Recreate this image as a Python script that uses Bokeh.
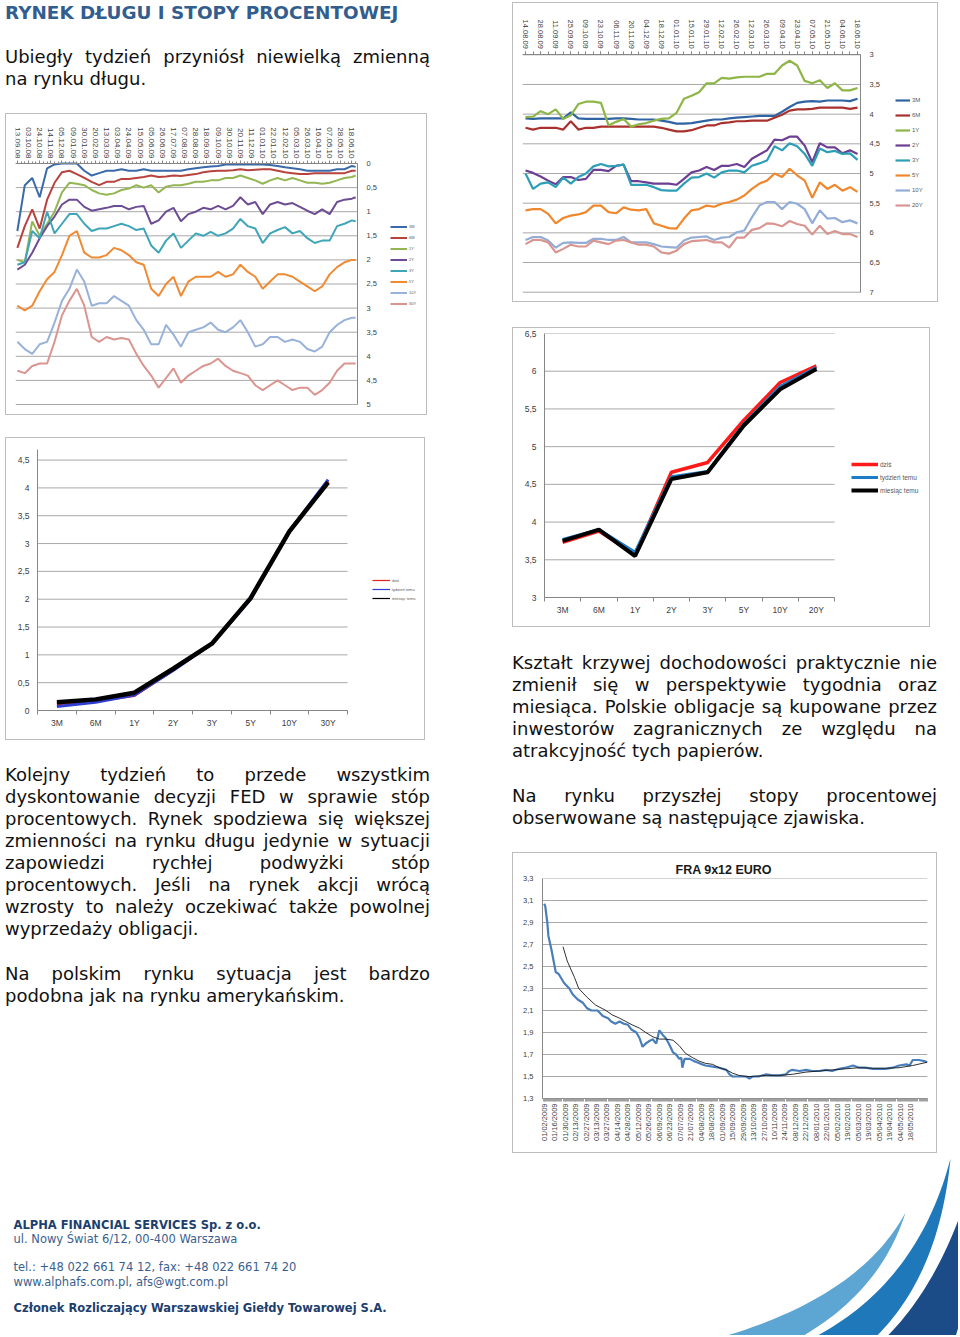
import math
import numpy as np
from bokeh.plotting import figure
from bokeh.models import (Range1d, FixedTicker, Legend, LegendItem, Div, Spacer,
                          CustomJSTickFormatter)
from bokeh.layouts import column, row
from bokeh.embed import file_html
from bokeh.resources import INLINE
from bokeh.core.properties import value

# ------------------------------------------------------------------ data
# US Treasury yields (weekly), chart 1
us_labels = ["13.09.08", "03.10.08", "24.10.08", "14.11.08", "05.12.08", "09.01.09",
             "30.01.09", "20.02.09", "13.03.09", "03.04.09", "24.04.09", "15.05.09",
             "05.06.09", "26.06.09", "17.07.09", "07.08.09", "28.08.09", "18.09.09",
             "09.10.09", "30.10.09", "20.11.09", "11.12.09", "01.01.10", "22.01.10",
             "12.02.10", "05.03.10", "26.03.10", "16.04.10", "07.05.10", "28.05.10",
             "18.06.10"]
us_label_pos = list(range(0, 91, 3))
us_x = list(range(0, 92, 2)) + [91]
us_names = ["3M", "6M", "1Y", "2Y", "3Y", "5Y", "10Y", "30Y"]
us_3m = [1.4, 0.45, 0.3, 0.7, 0.1, 0.02, 0.0, 0.0, 0.0, 0.15, 0.25, 0.2, 0.15, 0.15, 0.12,
         0.15, 0.15, 0.12, 0.15, 0.15, 0.15, 0.15, 0.15, 0.12, 0.1, 0.08, 0.06, 0.05, 0.02,
         0.02, 0.02, 0.02, 0.02, 0.02, 0.03, 0.05, 0.08, 0.1, 0.12, 0.15, 0.15, 0.15, 0.15,
         0.12, 0.12, 0.05, 0.07]
us_6m = [1.75, 1.3, 0.95, 1.35, 0.75, 0.4, 0.18, 0.15, 0.22, 0.3, 0.38, 0.45, 0.38, 0.38,
         0.32, 0.32, 0.3, 0.28, 0.25, 0.28, 0.27, 0.25, 0.26, 0.24, 0.22, 0.18, 0.16, 0.15,
         0.15, 0.14, 0.12, 0.14, 0.13, 0.12, 0.12, 0.15, 0.18, 0.2, 0.22, 0.22, 0.2, 0.2,
         0.2, 0.2, 0.2, 0.15, 0.15]
us_1y = [2.0, 2.05, 1.2, 1.5, 1.25, 1.0, 0.6, 0.4, 0.42, 0.45, 0.55, 0.62, 0.65, 0.62, 0.55,
         0.52, 0.45, 0.5, 0.45, 0.6, 0.48, 0.45, 0.45, 0.42, 0.38, 0.38, 0.35, 0.35, 0.3,
         0.3, 0.25, 0.3, 0.35, 0.42, 0.35, 0.3, 0.35, 0.3, 0.35, 0.4, 0.4, 0.42, 0.4, 0.35,
         0.3, 0.28, 0.25]
us_2y = [2.2, 2.1, 1.85, 1.55, 1.3, 1.1, 0.85, 0.75, 0.75, 0.9, 0.98, 0.95, 0.92, 0.88,
         0.88, 0.95, 0.9, 0.88, 1.25, 1.18, 1.0, 0.92, 1.2, 1.05, 1.0, 0.92, 0.95, 0.88,
         0.95, 0.88, 0.7, 0.85, 0.8, 1.05, 0.85, 0.8, 0.85, 0.82, 0.9, 0.98, 1.05, 0.95,
         1.05, 0.8, 0.75, 0.73, 0.7]
us_3y = [2.1, 2.05, 1.4, 1.55, 1.0, 1.45, 1.25, 1.05, 1.05, 1.25, 1.4, 1.35, 1.35, 1.3,
         1.25, 1.3, 1.38, 1.35, 1.7, 1.85, 1.6, 1.45, 1.75, 1.6, 1.45, 1.5, 1.42, 1.5, 1.45,
         1.35, 1.15, 1.3, 1.35, 1.65, 1.45, 1.38, 1.32, 1.45, 1.4, 1.55, 1.65, 1.6, 1.6,
         1.3, 1.25, 1.18, 1.2]
us_5y = [2.95, 3.05, 2.95, 2.65, 2.4, 2.25, 1.9, 1.5, 1.4, 1.85, 1.95, 1.95, 1.9, 1.75, 1.8,
         1.9, 2.05, 2.1, 2.6, 2.75, 2.5, 2.35, 2.75, 2.45, 2.35, 2.35, 2.35, 2.25, 2.35, 2.3,
         2.1, 2.25, 2.35, 2.6, 2.45, 2.3, 2.3, 2.35, 2.45, 2.55, 2.65, 2.55, 2.3, 2.15,
         2.05, 2.0, 2.0]
us_10y = [3.7, 3.85, 3.95, 3.75, 3.7, 3.3, 2.85, 2.6, 2.2, 2.45, 2.95, 2.9, 2.9, 2.75, 2.85,
          2.95, 3.25, 3.45, 3.75, 3.75, 3.35, 3.55, 3.8, 3.5, 3.45, 3.4, 3.3, 3.45, 3.5, 3.4,
          3.25, 3.5, 3.8, 3.75, 3.6, 3.6, 3.7, 3.65, 3.7, 3.85, 3.9, 3.8, 3.5, 3.35, 3.25,
          3.2, 3.2]
us_30y = [4.3, 4.35, 4.2, 4.15, 4.15, 3.7, 3.15, 2.85, 2.6, 2.95, 3.6, 3.7, 3.6, 3.65, 3.62,
          3.65, 3.95, 4.2, 4.4, 4.65, 4.45, 4.25, 4.55, 4.4, 4.3, 4.2, 4.15, 4.05, 4.2, 4.3,
          4.35, 4.4, 4.6, 4.7, 4.6, 4.5, 4.6, 4.7, 4.65, 4.65, 4.8, 4.7, 4.55, 4.3, 4.15,
          4.15, 4.15]

# Polish bond yields (weekly), chart 3
pl_labels = ["14.08.09", "28.08.09", "11.09.09", "25.09.09", "09.10.09", "23.10.09",
             "06.11.09", "20.11.09", "04.12.09", "18.12.09", "01.01.10", "15.01.10",
             "29.01.10", "12.02.10", "26.02.10", "12.03.10", "26.03.10", "09.04.10",
             "23.04.10", "07.05.10", "21.05.10", "04.06.10", "18.06.10"]
pl_label_pos = list(range(0, 45, 2))
pl_x = list(range(45))
pl_names = ["3M", "6M", "1Y", "2Y", "3Y", "5Y", "10Y", "20Y"]
pl_3m = [4.07, 4.08, 4.07, 4.07, 4.07, 4.07, 3.97, 4.07, 4.08, 4.08,
         4.08, 4.08, 4.07, 4.07, 4.08, 4.09, 4.09, 4.09, 4.11, 4.13,
         4.16, 4.16, 4.15, 4.13, 4.11, 4.09, 4.09, 4.07, 4.06, 4.05,
         4.04, 4.03, 4.03, 4.03, 3.96, 3.88, 3.81, 3.79, 3.78, 3.79,
         3.77, 3.77, 3.77, 3.78, 3.74]
pl_6m = [4.23, 4.26, 4.23, 4.23, 4.23, 4.26, 4.12, 4.26, 4.23, 4.23,
         4.21, 4.21, 4.21, 4.21, 4.21, 4.21, 4.21, 4.21, 4.23, 4.26,
         4.29, 4.29, 4.27, 4.23, 4.19, 4.19, 4.15, 4.14, 4.12, 4.12,
         4.11, 4.11, 4.11, 4.06, 4.01, 3.94, 3.92, 3.92, 3.91, 3.89,
         3.89, 3.89, 3.89, 3.91, 3.89]
pl_1y = [4.05, 4.04, 3.95, 4.0, 3.92, 4.08, 4.02, 3.83, 3.79, 3.79,
         3.81, 4.19, 4.13, 4.08, 4.21, 4.17, 4.15, 4.11, 4.08, 4.07,
         3.98, 3.74, 3.69, 3.63, 3.48, 3.48, 3.39, 3.4, 3.38, 3.37,
         3.37, 3.37, 3.32, 3.32, 3.18, 3.1, 3.18, 3.44, 3.48, 3.43,
         3.56, 3.48, 3.6, 3.6, 3.56]
pl_2y = [4.95, 4.99, 5.05, 5.12, 5.18, 5.06, 5.06, 5.11, 5.09, 4.94,
         4.94, 4.96, 4.87, 4.85, 5.13, 5.13, 5.15, 5.17, 5.17, 5.17,
         5.19, 5.09, 4.98, 4.95, 4.89, 4.94, 4.87, 4.87, 4.84, 4.89,
         4.75, 4.68, 4.61, 4.43, 4.44, 4.38, 4.38, 4.53, 4.81, 4.49,
         4.56, 4.56, 4.66, 4.61, 4.67]
pl_3y = [5.0, 5.26, 5.17, 5.15, 5.23, 5.07, 5.17, 5.06, 5.0, 4.88,
         4.84, 4.88, 4.87, 4.85, 5.19, 5.19, 5.19, 5.23, 5.28, 5.29,
         5.29, 5.17, 5.07, 5.06, 5.0, 5.07, 4.98, 4.95, 4.95, 4.98,
         4.87, 4.83, 4.78, 4.54, 4.61, 4.49, 4.54, 4.67, 4.87, 4.58,
         4.64, 4.62, 4.67, 4.66, 4.77]
pl_5y = [5.62, 5.6, 5.6, 5.68, 5.84, 5.75, 5.71, 5.69, 5.65, 5.54,
         5.54, 5.65, 5.67, 5.57, 5.61, 5.62, 5.6, 5.84, 5.88, 5.92,
         5.93, 5.76, 5.62, 5.6, 5.54, 5.56, 5.51, 5.48, 5.44, 5.37,
         5.26, 5.17, 5.12, 5.0, 5.06, 4.92, 5.03, 5.12, 5.41, 5.15,
         5.26, 5.19, 5.29, 5.23, 5.31]
pl_10y = [6.12, 6.07, 6.07, 6.13, 6.25, 6.17, 6.16, 6.17, 6.17, 6.1,
          6.1, 6.12, 6.12, 6.07, 6.16, 6.16, 6.16, 6.19, 6.23, 6.24,
          6.25, 6.13, 6.08, 6.07, 6.06, 6.12, 6.08, 6.07, 5.99, 5.96,
          5.74, 5.54, 5.48, 5.48, 5.6, 5.48, 5.51, 5.6, 5.84, 5.62,
          5.76, 5.75, 5.82, 5.79, 5.84]
pl_20y = [6.19, 6.12, 6.12, 6.16, 6.33, 6.27, 6.2, 6.23, 6.23, 6.13,
          6.16, 6.19, 6.13, 6.12, 6.16, 6.2, 6.2, 6.23, 6.33, 6.35,
          6.3, 6.19, 6.14, 6.13, 6.12, 6.16, 6.16, 6.25, 6.08, 6.08,
          5.95, 5.92, 5.84, 5.85, 5.89, 5.8, 5.85, 5.88, 6.03, 5.88,
          6.02, 5.97, 6.02, 6.02, 6.07]

# yield curves, charts 2 and 4
curve_names = ["dziś", "tydzień temu", "miesiąc temu"]
us_curve_cats = ["3M", "6M", "1Y", "2Y", "3Y", "5Y", "10Y", "30Y"]
us_today = [0.12, 0.17, 0.27, 0.73, 1.2, 2.02, 3.22, 4.12]
us_week = [0.07, 0.15, 0.28, 0.72, 1.2, 2.0, 3.22, 4.15]
us_month = [0.15, 0.2, 0.32, 0.75, 1.2, 2.02, 3.22, 4.1]
pl_curve_cats = ["3M", "6M", "1Y", "2Y", "3Y", "5Y", "10Y", "20Y"]
pl_today = [3.73, 3.88, 3.57, 4.66, 4.79, 5.35, 5.85, 6.07]
pl_week = [3.77, 3.9, 3.6, 4.6, 4.67, 5.3, 5.8, 6.05]
pl_month = [3.75, 3.9, 3.55, 4.57, 4.66, 5.28, 5.76, 6.03]

# FRA 9x12 EURO (trading day index), chart 5
fra_labels = ["01/02/2009", "01/16/2009", "01/30/2009", "02/13/2009", "02/27/2009",
              "03/13/2009", "03/27/2009", "04/14/2009", "04/28/2009", "05/12/2009",
              "05/26/2009", "06/09/2009", "06/23/2009", "07/07/2009", "21/07/2009",
              "04/08/2009", "18/08/2009", "01/09/2009", "15/09/2009", "29/09/2009",
              "13/10/2009", "27/10/2009", "10/11/2009", "24/11/2009", "08/12/2009",
              "22/12/2009", "08/01/2010", "22/01/2010", "05/02/2010", "19/02/2010",
              "05/03/2010", "19/03/2010", "05/04/2010", "19/04/2010", "04/05/2010",
              "18/05/2010"]
fra_label_pos = list(range(0, 351, 10))
fra_day = [0, 1, 3, 4, 7, 11, 14, 19, 24, 27, 32, 37, 41, 45, 51, 56, 61, 64, 68, 72,
           76, 80, 83, 88, 91, 94, 97, 100, 104, 105, 107, 110, 113, 116, 119, 123, 126,
           129, 131, 132, 134, 139, 143, 146, 151, 154, 161, 167, 174, 177, 180, 186, 193,
           196, 199, 205, 212, 218, 225, 231, 234, 237, 244, 250, 256, 263, 269, 275, 282,
           288, 295, 301, 307, 314, 320, 326, 333, 339, 346, 349, 352, 358, 363, 366]
fra_val = [3.07, 3.05, 2.9, 2.78, 2.65, 2.45, 2.43, 2.35, 2.3, 2.25, 2.2, 2.17, 2.12, 2.1,
           2.1, 2.05, 2.03, 2.0, 1.98, 2.0, 1.98, 1.97, 1.93, 1.9, 1.85, 1.77, 1.8, 1.82,
           1.84, 1.82, 1.8, 1.92, 1.88, 1.85, 1.8, 1.72, 1.7, 1.66, 1.67, 1.58, 1.66, 1.66,
           1.64, 1.63, 1.61, 1.6, 1.59, 1.58, 1.56, 1.52, 1.5, 1.5, 1.5, 1.48, 1.5, 1.5,
           1.52, 1.51, 1.51, 1.52, 1.55, 1.56, 1.55, 1.56, 1.55, 1.55, 1.56, 1.55, 1.57,
           1.58, 1.6, 1.58, 1.58, 1.57, 1.57, 1.57, 1.58, 1.6, 1.61, 1.6, 1.65, 1.65, 1.64,
           1.63]
fra_ma_day = [18, 22, 29, 33, 41, 49, 59, 65, 72, 78, 84, 91, 97, 104, 110, 116, 123, 129,
              135, 142, 148, 154, 161, 167, 174, 180, 186, 193, 199, 212, 225, 237, 250,
              263, 275, 288, 301, 314, 326, 339, 352, 366]
fra_ma_val = [2.68, 2.55, 2.4, 2.3, 2.22, 2.15, 2.1, 2.06, 2.03, 2.0, 1.97, 1.94, 1.9,
              1.86, 1.84, 1.84, 1.83, 1.78, 1.71, 1.67, 1.64, 1.62, 1.61, 1.58, 1.56, 1.53,
              1.51, 1.5, 1.5, 1.51, 1.51, 1.52, 1.54, 1.55, 1.56, 1.57, 1.58, 1.575, 1.575,
              1.58, 1.6, 1.63]

# texts
title_text = "RYNEK DŁUGU I STOPY PROCENTOWEJ"
p1_lines = ["Ubiegły tydzień przyniósł niewielką zmienną", "na rynku długu."]
p2_lines = ["Kolejny tydzień to przede wszystkim",
            "dyskontowanie decyzji FED w sprawie stóp",
            "procentowych. Rynek spodziewa się większej",
            "zmienności na rynku długu jedynie w sytuacji",
            "zapowiedzi rychłej podwyżki stóp",
            "procentowych. Jeśli na rynek akcji wrócą",
            "wzrosty to należy oczekiwać także powolnej",
            "wyprzedaży obligacji."]
p5_lines = ["Na polskim rynku sytuacja jest bardzo",
            "podobna jak na rynku amerykańskim."]
p3_lines = ["Kształt krzywej dochodowości praktycznie nie",
            "zmienił się w perspektywie tygodnia oraz",
            "miesiąca. Polskie obligacje są kupowane przez",
            "inwestorów zagranicznych ze względu na",
            "atrakcyjność tych papierów."]
p4_lines = ["Na rynku przyszłej stopy procentowej",
            "obserwowane są następujące zjawiska."]
footer_bold = ["ALPHA FINANCIAL SERVICES Sp. z o.o.",
               "Członek Rozliczający Warszawskiej Giełdy Towarowej S.A."]
footer_regular = ["ul. Nowy Świat 6/12, 00-400 Warszawa",
                  "tel.: +48 022 661 74 12, fax: +48 022 661 74 20",
                  "www.alphafs.com.pl, afs@wgt.com.pl"]

# ------------------------------------------------------------------ styles
FONT = "DejaVu Sans"
AX_FONT = "Liberation Sans"
GRID = "#A8A8A8"
AXL = "#868686"
LBL = "#404040"
us_colors = ["#3A6AAA", "#B8423E", "#93B652", "#6E4C94", "#3FA5B8", "#F08A33",
             "#98B2D9", "#DA9590"]
pl_colors = ["#2F63A1", "#A9312D", "#8DB646", "#6C3F92", "#2C9FB7", "#F0872C",
             "#93ADD6", "#D99590"]

COMMA_JS = "var s = (Math.round(tick*10)/10).toString(); return s.replace('.', ',');"


def base_fig(w, h, l, r, t, b, xr, yr, **kw):
    p = figure(width=w, height=h, x_range=xr, y_range=yr, output_backend="svg",
               toolbar_location=None, min_border_left=l, min_border_right=r,
               min_border_top=t, min_border_bottom=b, **kw)
    p.outline_line_color = None
    p.background_fill_color = "white"
    p.border_fill_color = "white"
    p.xgrid.visible = False
    p.ygrid.visible = False
    return p


def gridlines(p, ticks, x0, x1):
    p.segment(x0=[x0] * len(ticks), x1=[x1] * len(ticks), y0=ticks, y1=ticks,
              line_color=GRID, line_width=1)


def boxed(p):
    return column(p, spacing=0, styles={"border": "1px solid #BDBDBD"})


def style_axis(ax, size):
    ax.major_label_text_font = AX_FONT
    ax.major_label_text_font_size = size
    ax.major_label_text_color = LBL
    ax.axis_line_color = AXL
    ax.major_tick_line_color = AXL
    ax.minor_tick_line_color = AXL
    ax.major_tick_in = 0
    ax.minor_tick_in = 0


def comma_y(ax, ticks, size, standoff=7):
    ax.ticker = FixedTicker(ticks=ticks)
    ax.formatter = CustomJSTickFormatter(code=COMMA_JS)
    style_axis(ax, size)
    ax.major_tick_out = 0
    ax.major_label_standoff = standoff


def add_legend(p, names, rends, vx, vy, fs, gw, gh, sp):
    leg = Legend(items=[LegendItem(label=n, renderers=[r]) for n, r in zip(names, rends)],
                 location=(vx, vy), orientation="vertical",
                 label_text_font=AX_FONT, label_text_font_size=fs,
                 label_text_color="#595959", glyph_width=gw, glyph_height=gh,
                 label_height=gh, spacing=sp, padding=0, margin=0, label_standoff=2,
                 border_line_color=None, background_fill_alpha=0)
    p.add_layout(leg)


# ------------------------------------------------------------------ chart 1 (US yields)
us_yt = [0, 0.5, 1, 1.5, 2, 2.5, 3, 3.5, 4, 4.5, 5]
p1 = base_fig(420, 300, 9, 0, 0, 0, Range1d(-0.5, 110.06), Range1d(5.2075, -1.0166),
              x_axis_location="above", y_axis_location="right")
gridlines(p1, us_yt, -0.5, 91.5)
r1 = [p1.line(us_x, s, line_color=c, line_width=2.0)
      for s, c in zip([us_3m, us_6m, us_1y, us_2y, us_3y, us_5y, us_10y, us_30y], us_colors)]
xa = p1.xaxis[0]
xa.ticker = FixedTicker(ticks=us_label_pos, minor_ticks=list(range(92)))
xa.major_label_overrides = {int(k): v for k, v in zip(us_label_pos, us_labels)}
xa.major_label_orientation = -math.pi / 2
xa.bounds = (-0.5, 91.5)
xa.fixed_location = 0
style_axis(xa, "8px")
xa.major_tick_out = 3
xa.minor_tick_out = 2
xa.major_label_standoff = 2
ya = p1.yaxis[0]
comma_y(ya, us_yt, "7.5px", 9)
ya.fixed_location = 91.5
ya.bounds = (0, 5)
add_legend(p1, us_names, r1, 375, 107.5, "4px", 17, 7, 4)

# ------------------------------------------------------------------ chart 2 (US curve)
us_ct = [0, 0.5, 1, 1.5, 2, 2.5, 3, 3.5, 4, 4.5]
p2 = base_fig(418, 301, 31, 0, 11, 29, Range1d(-0.5, 9.487), Range1d(0, 4.69))
gridlines(p2, us_ct, -0.5, 7.5)
cx = list(range(len(us_curve_cats)))
c2 = ["#E3201B", "#2F3FD0", "#000000"]
p2.line(cx, us_today, line_color=c2[0], line_width=3)
p2.line(cx, us_week, line_color=c2[1], line_width=3)
p2.line(cx, us_month, line_color=c2[2], line_width=4.5)
# thin, hidden twins of the three series used only for the legend swatches
r2 = [p2.line(cx, s, line_color=c, line_width=1.2, visible=False)
      for s, c in zip([us_today, us_week, us_month], c2)]
xa = p2.xaxis[0]
xa.ticker = FixedTicker(ticks=cx, minor_ticks=[k - 0.5 for k in range(9)])
xa.major_label_overrides = {i: c for i, c in enumerate(us_curve_cats)}
xa.bounds = (-0.5, 7.5)
style_axis(xa, "8.5px")
xa.major_tick_out = 0
xa.minor_tick_out = 4
xa.major_label_standoff = 3
comma_y(p2.yaxis[0], us_ct, "8.5px", 8)
add_legend(p2, curve_names, r2, 335, 109, "4px", 18, 6, 3)

# ------------------------------------------------------------------ chart 3 (PL yields)
pl_yt = [3, 3.5, 4, 4.5, 5, 5.5, 6, 6.5, 7]
p3 = base_fig(424, 298, 9, 0, 0, 0, Range1d(-0.4, 54.6), Range1d(7.1567, 2.1356),
              x_axis_location="above", y_axis_location="right")
gridlines(p3, pl_yt, -0.4, 44.4)
r3 = [p3.line(pl_x, s, line_color=c, line_width=2.2)
      for s, c in zip([pl_3m, pl_6m, pl_1y, pl_2y, pl_3y, pl_5y, pl_10y, pl_20y], pl_colors)]
xa = p3.xaxis[0]
xa.ticker = FixedTicker(ticks=pl_label_pos, minor_ticks=pl_x)
xa.major_label_overrides = {int(k): v for k, v in zip(pl_label_pos, pl_labels)}
xa.major_label_orientation = -math.pi / 2
xa.bounds = (-0.4, 44.4)
xa.fixed_location = 3
style_axis(xa, "7.5px")
xa.major_tick_out = 3
xa.minor_tick_out = 3
xa.major_label_standoff = 3
ya = p3.yaxis[0]
comma_y(ya, pl_yt, "7.5px", 9)
ya.fixed_location = 44.4
ya.bounds = (3, 7)
add_legend(p3, pl_names, r3, 373, 92, "6px", 15, 8, 7)

# ------------------------------------------------------------------ chart 4 (PL curve)
pl_ct = [3, 3.5, 4, 4.5, 5, 5.5, 6, 6.5]
p4 = base_fig(416, 298, 31, 0, 5, 29, Range1d(-0.5, 10.12), Range1d(3, 6.5))
gridlines(p4, pl_ct, -0.5, 7.5)
cx = list(range(len(pl_curve_cats)))
r4 = [p4.line(cx, pl_today, line_color="#FF1A1A", line_width=3.5),
      p4.line(cx, pl_week, line_color="#1F7BC4", line_width=3),
      p4.line(cx, pl_month, line_color="#000000", line_width=4)]
xa = p4.xaxis[0]
xa.ticker = FixedTicker(ticks=cx, minor_ticks=[k - 0.5 for k in range(9)])
xa.major_label_overrides = {i: c for i, c in enumerate(pl_curve_cats)}
xa.bounds = (-0.5, 7.5)
style_axis(xa, "8.5px")
xa.major_tick_out = 0
xa.minor_tick_out = 4
xa.major_label_standoff = 3
comma_y(p4.yaxis[0], pl_ct, "8.5px", 8)
add_legend(p4, curve_names, r4, 307, 103, "6.5px", 27, 8, 5)

# ------------------------------------------------------------------ chart 5 (FRA)
fra_yt = [1.3, 1.5, 1.7, 1.9, 2.1, 2.3, 2.5, 2.7, 2.9, 3.1, 3.3]
p5 = base_fig(423, 299, 29, 9, 25, 54, Range1d(-1.6, 366.1), Range1d(1.3, 3.3))
gridlines(p5, fra_yt, -1.6, 366.1)
p5.line(fra_day, fra_val, line_color="#4A7EBB", line_width=2.2)
p5.line(fra_ma_day, fra_ma_val, line_color="#1A1A1A", line_width=0.9)
p5.title.text = "FRA 9x12 EURO"
p5.title.text_font = AX_FONT
p5.title.text_font_size = "12.5px"
p5.title.text_font_style = "bold"
p5.title.text_color = "#1A1A1A"
p5.title.align = "left"
p5.title.offset = 133
p5.title.standoff = 4
xa = p5.xaxis[0]
xa.ticker = FixedTicker(ticks=fra_label_pos, minor_ticks=list(range(-1, 367)))
xa.major_label_overrides = {int(k): v for k, v in zip(fra_label_pos, fra_labels)}
xa.major_label_orientation = math.pi / 2
style_axis(xa, "7.5px")
xa.major_tick_out = 3
xa.minor_tick_out = 3
xa.minor_tick_line_color = "#A0A0A0"
xa.major_label_standoff = 2
ya = p5.yaxis[0]
ya.ticker = FixedTicker(ticks=fra_yt)
ya.formatter = CustomJSTickFormatter(code="return tick.toFixed(1).replace('.', ',');")
style_axis(ya, "7.5px")
ya.major_tick_out = 0
ya.major_label_standoff = 9


# ------------------------------------------------------------------ text blocks
def text_block(width, height, lines):
    parts = []
    for txt, top, just, extra in lines:
        if just:
            inner = "".join(f"<span>{w}</span>" for w in txt.split(" "))
            parts.append(
                f'<div style="position:absolute;left:0px;top:{top}px;width:{width}px;'
                f'height:22px;line-height:22px;display:flex;justify-content:space-between;'
                f'white-space:nowrap;{extra}">{inner}</div>')
        else:
            parts.append(
                f'<div style="position:absolute;left:0px;top:{top}px;height:22px;'
                f'line-height:22px;white-space:nowrap;{extra}">{txt}</div>')
    html = (f'<div style="position:relative;width:{width}px;height:{height}px;'
            f'font-family:\'DejaVu Sans\';font-size:18px;color:#111111;">'
            + "".join(parts) + "</div>")
    return Div(text=html, width=width, height=height, margin=0)


def para(lines, top0):
    out = []
    for k, ln in enumerate(lines):
        out.append((ln, top0 + 22 * k, k < len(lines) - 1, ""))
    return out


head = text_block(425, 113,
                  [(title_text, 6, False,
                    "line-height:14px;height:14px;font-weight:bold;font-size:18.4px;color:#325D8F;")]
                  + para(p1_lines, 46))
left_txt = text_block(425, 275, para(p2_lines, 24) + para(p5_lines, 223))
right_txt = text_block(425, 225, para(p3_lines, 25) + para(p4_lines, 158))

# ------------------------------------------------------------------ footer
FH = 182
pf = figure(width=958, height=FH, x_range=Range1d(0, 958), y_range=Range1d(FH, 0),
            output_backend="svg", toolbar_location=None, min_border=0,
            x_axis_location=None, y_axis_location=None)
pf.grid.visible = False
pf.outline_line_color = None


def qbez(p0, c, p2, n=40):
    t = np.linspace(0, 1, n)[:, None]
    return (1 - t) ** 2 * np.array(p0) + 2 * (1 - t) * t * np.array(c) + t ** 2 * np.array(p2)


swoosh = [((690, 1345), (855, 1305), (905, 1212), (878, 1298), (785, 1345), "#5DA5D3"),
          ((797, 1345), (915, 1292), (950, 1158), (938, 1282), (866, 1345), "#1F78BA"),
          ((877, 1345), (958, 1272), (988, 1108), (978, 1272), (952, 1345), "#1B4C87")]
xs, ys, cs = [], [], []
for pu, cu, tip, cl, pl_, col in swoosh:
    pts = np.vstack([qbez(pu, cu, tip), qbez(tip, cl, pl_)])
    xs.append(list(pts[:, 0]))
    ys.append(list(pts[:, 1] - 1153))
    cs.append(col)
pf.patches(xs, ys, fill_color=cs, line_color=None)

pf.text(x=[13, 13], y=[71, 154], text=footer_bold, text_font=value(FONT),
        text_font_size="11.5px", text_font_style="bold", text_color="#1C3F6E",
        text_baseline="middle", text_align="left")
pf.text(x=[13, 13, 13], y=[85, 113, 128], text=footer_regular, text_font=value(FONT),
        text_font_size="11.5px", text_color="#3A5F8F",
        text_baseline="middle", text_align="left")

# ------------------------------------------------------------------ layout
left_col = column(head, boxed(p1), Spacer(width=1, height=22), boxed(p2), left_txt,
                  spacing=0)
right_col = column(Spacer(width=1, height=2), boxed(p3), Spacer(width=1, height=25),
                   boxed(p4), right_txt, boxed(p5), spacing=0)
top = row(Spacer(width=5, height=1), left_col, Spacer(width=82, height=1), right_col,
          spacing=0)
page = column(top, pf, spacing=0)

open("out.html", "w").write(file_html(page, INLINE, title="Rynek długu"))
